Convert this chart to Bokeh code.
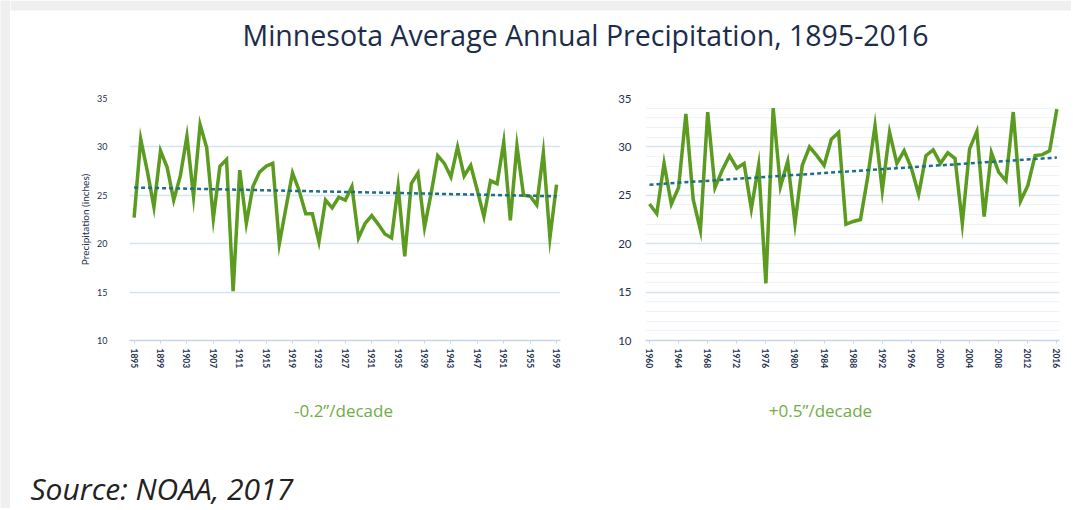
from bokeh.plotting import figure
from bokeh.layouts import column, row
from bokeh.models import Range1d, Label, FixedTicker, SingleIntervalTicker
from bokeh.embed import file_html
from bokeh.resources import INLINE

# ---------------- data ----------------
title_text = "Minnesota Average Annual Precipitation, 1895-2016"
source_text = "Source: NOAA, 2017"
y_axis_title = "Precipitation (inches)"
caption_left = "-0.2\u201d/decade"
caption_right = "+0.5\u201d/decade"

years_early = list(range(1895, 1960))
precip_early = [
    22.7, 30.8, 27.5, 23.8, 29.6, 27.9, 24.5, 27.0, 31.1, 24.9,
    32.3, 29.9, 22.6, 28.0, 28.7, 15.1, 27.6, 22.1, 25.9, 27.4,
    28.0, 28.3, 20.0, 23.7, 27.3, 25.5, 23.1, 23.1, 20.2, 24.5,
    23.7, 24.8, 24.5, 25.9, 20.6, 22.1, 22.9, 22.0, 21.0, 20.6,
    25.9, 18.7, 26.2, 27.3, 21.7, 25.2, 29.1, 28.3, 26.9, 30.0,
    27.0, 28.1, 25.5, 22.8, 26.5, 26.2, 30.5, 22.4, 30.1, 25.0,
    24.9, 24.0, 29.4, 20.6, 26.1,
]
trend_early_years = [1895, 1959]
trend_early_vals = [25.8, 24.9]

years_late = list(range(1960, 2017))
precip_late = [
    24.1, 23.1, 28.3, 24.1, 25.8, 33.4, 24.6, 21.4, 33.6, 25.8,
    27.6, 29.1, 27.8, 28.3, 23.6, 28.1, 15.9, 34.0, 25.9, 28.5,
    22.1, 28.1, 30.0, 29.1, 28.1, 30.8, 31.5, 22.0, 22.3, 22.5,
    26.9, 32.2, 25.5, 31.5, 28.3, 29.6, 27.8, 25.1, 29.1, 29.7,
    28.3, 29.4, 28.8, 22.1, 29.8, 31.6, 22.8, 29.4, 27.4, 26.5,
    33.6, 24.4, 26.0, 29.1, 29.2, 29.6, 33.9,
]
trend_late_years = [1960, 2016]
trend_late_vals = [26.1, 28.9]

ticks_early = list(range(1895, 1960, 4))
ticks_late = list(range(1960, 2017, 4))

assert len(years_early) == len(precip_early)
assert len(years_late) == len(precip_late)

# ---------------- styles ----------------
GREEN = "#5b9b1f"
TREND = "#1f6e85"
NAVY = "#1f2f4f"
GRID = "#d6e3f1"
MINOR = "#eef3f9"
CAPTION = "#70ad47"
FONT = "Lato"
SHADE = "#efefef"

STRIP_W = 10
TOTAL_W = 1061
HEAD_H = 80
MID_H = 298
FOOT_H = 130
ALL_H = HEAD_H + MID_H + FOOT_H


def blank(width, height):
    f = figure(width=width, height=height, x_range=Range1d(0, width), y_range=Range1d(0, height),
               output_backend="svg", toolbar_location=None, min_border=0,
               x_axis_type=None, y_axis_type=None)
    f.grid.visible = False
    f.outline_line_color = None
    return f


# left grey edge of the card
strip = blank(STRIP_W, ALL_H)
strip.background_fill_color = SHADE
strip.border_fill_color = SHADE

header = blank(TOTAL_W, HEAD_H)
header.quad(left=[0], right=[TOTAL_W], bottom=[HEAD_H - 10], top=[HEAD_H],
            fill_color=SHADE, line_color=None)
header.add_layout(Label(x=575, y=HEAD_H - 34, text=title_text, text_align="center",
                        text_baseline="middle", text_font="Open Sans", text_font_size="28.5px",
                        text_color="#1c2d4c"))


def chart(width, xr, left, right, years, vals, t_years, t_vals, ticks, ylabel, minor, ytick_size):
    p = figure(width=width, height=MID_H, x_range=Range1d(*xr), y_range=Range1d(10, 35),
               output_backend="svg", toolbar_location=None,
               min_border_left=left, min_border_right=right, min_border_top=18, min_border_bottom=38)
    p.outline_line_color = None
    p.xgrid.visible = False
    p.ygrid.grid_line_color = GRID
    p.ygrid.grid_line_width = 1.5
    p.yaxis.ticker = SingleIntervalTicker(interval=5, num_minor_ticks=5 if minor else 0)
    if minor:
        p.ygrid.minor_grid_line_color = MINOR
        p.ygrid.minor_grid_line_width = 1
    p.yaxis.axis_line_color = None
    p.yaxis.major_tick_line_color = None
    p.yaxis.minor_tick_line_color = None
    p.yaxis.major_label_text_font = FONT
    p.yaxis.major_label_text_font_size = ytick_size
    p.yaxis.major_label_text_color = NAVY
    p.yaxis.major_label_standoff = 16 if ylabel else 8
    if ylabel:
        p.yaxis.axis_label = ylabel
        p.yaxis.axis_label_text_font = FONT
        p.yaxis.axis_label_text_font_size = "10px"
        p.yaxis.axis_label_text_font_style = "normal"
        p.yaxis.axis_label_text_color = NAVY
        p.yaxis.axis_label_standoff = 3

    p.xaxis.ticker = FixedTicker(ticks=ticks)
    p.xaxis.major_label_orientation = "vertical"
    p.xaxis.axis_line_color = "#c7d5e6"
    p.xaxis.axis_line_width = 1.5
    p.xaxis.major_tick_line_color = "#c7d5e6"
    p.xaxis.major_tick_out = 3
    p.xaxis.major_tick_in = 0
    p.xaxis.minor_tick_line_color = None
    p.xaxis.major_label_text_font = FONT
    p.xaxis.major_label_text_font_size = "8.5px"
    p.xaxis.major_label_text_font_style = "bold"
    p.xaxis.major_label_text_color = NAVY
    p.xaxis.major_label_standoff = 5

    p.line(years, vals, line_color=GREEN, line_width=3.5, line_join="miter")
    p.line(t_years, t_vals, line_color=TREND, line_width=2.5, line_dash="4 3")
    return p


p1 = chart(590, (1894.3, 1959.6), 119, 40, years_early, precip_early,
           trend_early_years, trend_early_vals, ticks_early, y_axis_title, False, "9px")
p2 = chart(471, (1959.45, 2016.36), 45, 12, years_late, precip_late,
           trend_late_years, trend_late_vals, ticks_late, None, True, "11.5px")

footer = blank(TOTAL_W, FOOT_H)
footer.add_layout(Label(x=333, y=FOOT_H - 32, text=caption_left, text_align="center",
                        text_baseline="middle", text_font="Open Sans", text_font_size="17px",
                        text_color=CAPTION))
footer.add_layout(Label(x=810, y=FOOT_H - 32, text=caption_right, text_align="center",
                        text_baseline="middle", text_font="Open Sans", text_font_size="17px",
                        text_color=CAPTION))
footer.add_layout(Label(x=20, y=0, text=source_text, text_align="left",
                        text_baseline="bottom", text_font="Open Sans", text_font_size="30px",
                        text_font_style="italic", text_color="#222222"))

layout = row(strip, column(header, row(p1, p2, spacing=0), footer, spacing=0), spacing=0)

open("out.html", "w").write(file_html(layout, INLINE))
